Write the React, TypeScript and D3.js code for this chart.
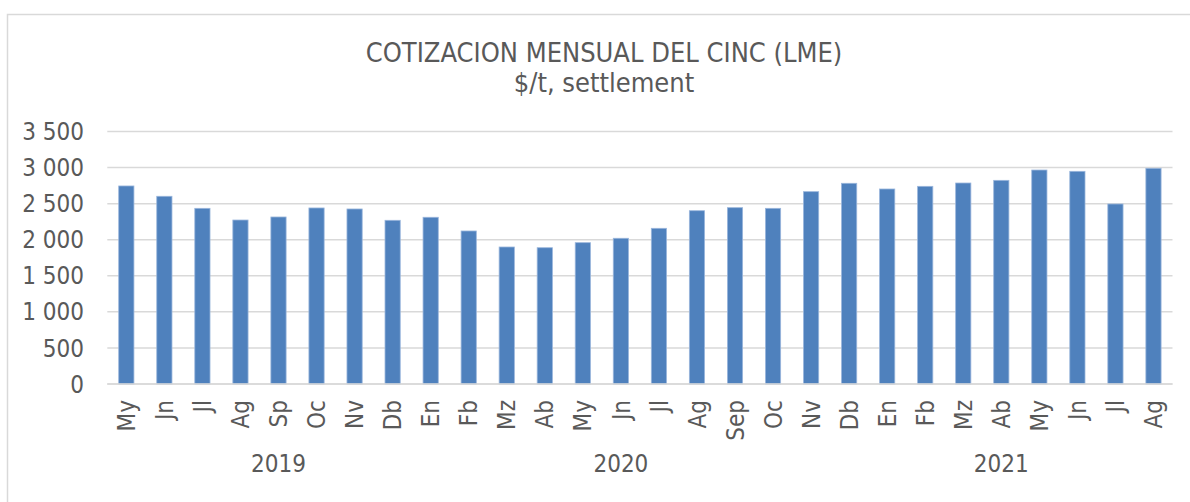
import React from "react";
import * as d3 from "d3";

const months = [
  "My", "Jn", "Jl", "Ag", "Sp", "Oc", "Nv", "Db",
  "En", "Fb", "Mz", "Ab", "My", "Jn", "Jl", "Ag", "Sep", "Oc", "Nv", "Db",
  "En", "Fb", "Mz", "Ab", "My", "Jn", "Jl", "Ag",
];
const prices = [
  2745, 2602, 2435, 2273, 2315, 2440, 2426, 2269,
  2311, 2121, 1899, 1889, 1959, 2020, 2158, 2402, 2444, 2435, 2666, 2782,
  2703, 2740, 2786, 2823, 2966, 2948, 2495, 2990,
];
const years = ["2019", "2020", "2021"];
const yearAnchorIndex = [4, 13, 23];
const yTicks = [0, 500, 1000, 1500, 2000, 2500, 3000, 3500];
const title = "COTIZACION MENSUAL DEL CINC (LME)";
const subtitle = "$/t, settlement";

const W = 1190;
const H = 502;
const plot = { left: 107.3, right: 1172.5, top: 131.5, bottom: 384 };
const FONT = "'DejaVu Sans Condensed', 'DejaVu Sans', sans-serif";
const TEXT = "#595959";
const GRID = "#d9d9d9";
const BAR = "#4f81bd";

export default function App() {
  const x = d3
    .scaleBand<number>()
    .domain(d3.range(months.length))
    .range([plot.left, plot.right])
    .paddingInner(0.6)
    .paddingOuter(0.3);
  const y = d3.scaleLinear().domain([0, 3500]).range([plot.bottom, plot.top]);
  const fmt = (v: number) => d3.format(",")(v).replace(/,/g, " ");
  const cx = (i: number) => (x(i) as number) + x.bandwidth() / 2;

  return (
    <svg
      width={W}
      height={H}
      style={{ position: "absolute", left: 0, top: 0, background: "#fff" }}
      fontFamily={FONT}
    >
      <rect x={7.5} y={14.5} width={1200} height={500} fill="#fff" stroke={GRID} strokeWidth={1.5} />
      <text x={604} y={62} textAnchor="middle" fontSize={27} fill={TEXT}>
        {title}
      </text>
      <text x={604} y={92} textAnchor="middle" fontSize={27} fill={TEXT}>
        {subtitle}
      </text>
      {yTicks.map((t) => (
        <g key={t}>
          <line x1={plot.left} x2={plot.right} y1={y(t)} y2={y(t)} stroke={GRID} strokeWidth={1.5} />
          <text x={84} y={y(t)} dy="0.36em" textAnchor="end" fontSize={24} fill={TEXT}>
            {fmt(t)}
          </text>
        </g>
      ))}
      {prices.map((v, i) => (
        <rect
          key={i}
          x={x(i)}
          y={y(v)}
          width={x.bandwidth()}
          height={y(0) - y(v)}
          fill={BAR}
          stroke="#9ab6dc"
          strokeWidth={0.8}
        />
      ))}
      <line x1={plot.left} x2={plot.right} y1={y(0)} y2={y(0)} stroke={GRID} strokeWidth={1.5} />
      {months.map((m, i) => (
        <text
          key={i}
          transform={`translate(${cx(i)},400) rotate(-90)`}
          dy="0.36em"
          textAnchor="end"
          fontSize={24}
          fill={TEXT}
        >
          {m}
        </text>
      ))}
      {years.map((yr, k) => (
        <text key={yr} x={cx(yearAnchorIndex[k])} y={472} textAnchor="middle" fontSize={24} fill={TEXT}>
          {yr}
        </text>
      ))}
    </svg>
  );
}
